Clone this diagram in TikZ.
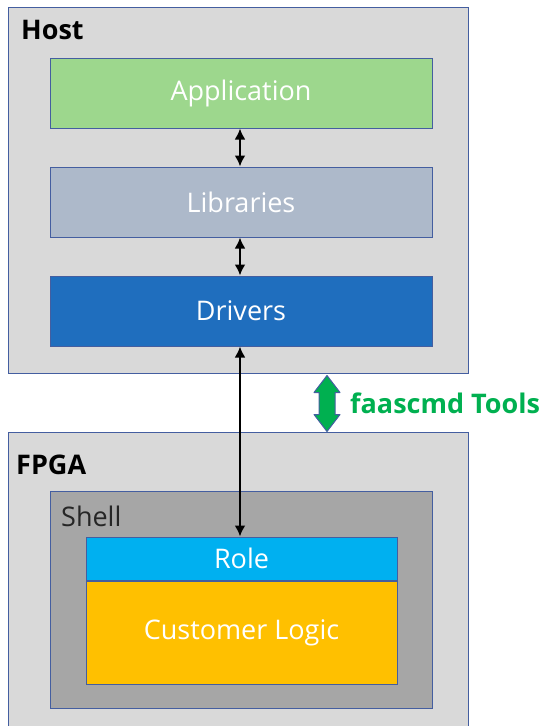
\documentclass[tikz,border=0pt]{standalone}
\usepackage{fontspec}
\setmainfont{Open Sans}
\usetikzlibrary{arrows.meta,positioning}
\definecolor{PanelGray}{RGB}{217,217,217}
\definecolor{ShellGray}{RGB}{166,166,166}
\definecolor{EdgeBlue}{RGB}{68,94,160}
\definecolor{AppGreen}{RGB}{157,215,141}
\definecolor{LibGray}{RGB}{173,185,202}
\definecolor{DrvBlue}{RGB}{31,110,190}
\definecolor{RoleBlue}{RGB}{0,176,240}
\definecolor{LogicGold}{RGB}{255,192,0}
\definecolor{ToolGreen}{RGB}{0,176,80}

\begin{document}
\begin{tikzpicture}[x=1pt,y=-1pt,>=Latex,
  panel/.style={draw=EdgeBlue,line width=1pt,fill=PanelGray,minimum width=460,inner sep=0},
  layer/.style={draw=EdgeBlue,line width=1pt,minimum width=382,minimum height=70,
    inner sep=0,text=white,font=\fontsize{27}{30}\selectfont},
  title/.style={anchor=base west,inner sep=0,font=\fontsize{27}{30}\selectfont\bfseries},
  link/.style={<->,line width=2.4pt,>={Latex[length=11pt,width=11pt]}}]
  \useasboundingbox (0,0) rectangle (542,726);
  % host side
  \node[panel,minimum height=366] (host) at (238,190) {};
  \node[title] (hostlbl) at (21,39) {Host};
  \node[layer,fill=AppGreen] (app) at (241,93) {Application};
  \node[layer,fill=LibGray] (lib) at (241,202) {Libraries};
  \node[layer,fill=DrvBlue] (drv) at (241,311) {Drivers};
  % fpga side
  \node[panel,minimum height=300] (fpga) at (238,582) {};
  \node[title] (fpgalbl) at (16,474) {FPGA};
  \node[layer,fill=ShellGray,minimum height=217] (shell) at (241,599.5) {};
  \node[anchor=base west,inner sep=0,text=black!85,font=\fontsize{27}{30}\selectfont]
    (shelllbl) at (61,526) {Shell};
  \node[layer,fill=RoleBlue,minimum width=311,minimum height=43] (role) at (241.5,558.5) {Role};
  \node[layer,fill=LogicGold,minimum width=311,minimum height=103,below=0pt of role]
    (logic) {Customer Logic};
  % connectors
  \draw[link] (app.south -| 240,0) -- (lib.north -| 240,0);
  \draw[link] (lib.south -| 240,0) -- (drv.north -| 240,0);
  \draw[link] (drv.south -| 240,0) -- (role.north -| 240,0);
  % tools arrow
  \coordinate (tt) at (host.south -| 327,0);
  \filldraw[fill=ToolGreen,draw=EdgeBlue,line width=1pt,line join=round]
    (tt) ++(0,2) -- ++(13,17) -- ++(-5,0) -- ++(0,22) -- ++(5,0) -- ++(-13,17)
    -- ++(-13,-17) -- ++(5,0) -- ++(0,-22) -- ++(-5,0) -- cycle;
  \node[anchor=west,inner sep=0,text=ToolGreen,font=\fontsize{27}{30}\selectfont\bfseries]
    (tools) at (350,403) {faascmd Tools};
\end{tikzpicture}
\end{document}
